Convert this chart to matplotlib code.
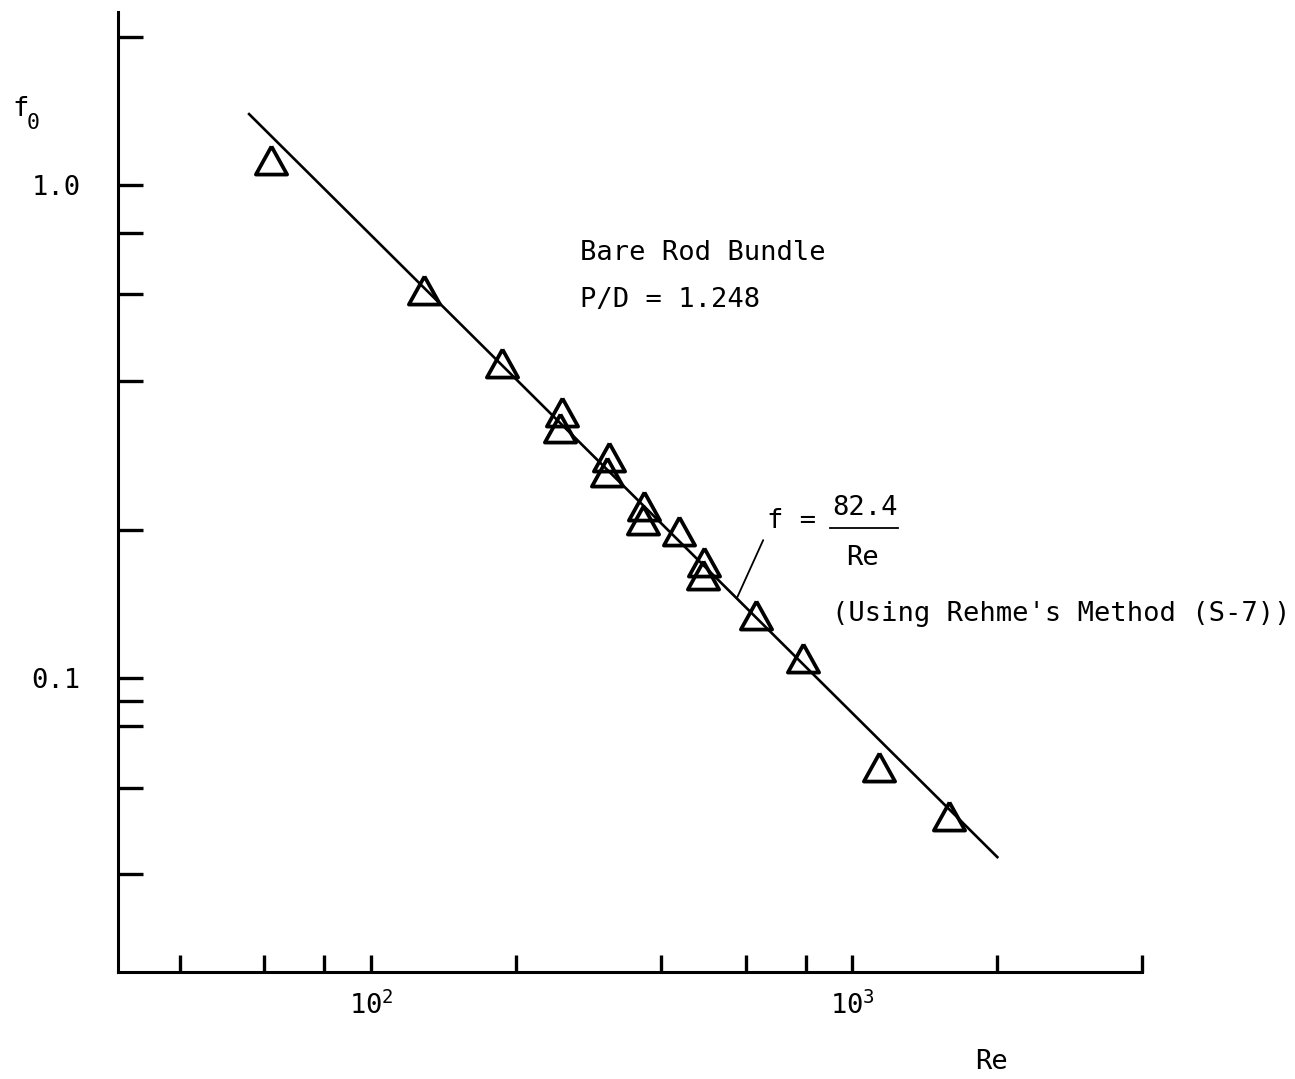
# friction_factor_plot.py
# Friction factor vs Reynolds number, bare rod bundle (log-log)

import matplotlib
matplotlib.use("Agg")
import matplotlib.pyplot as plt
from matplotlib.ticker import FixedLocator, NullFormatter, FixedFormatter

plt.rcParams['font.family'] = ['DejaVu Sans Mono', 'DejaVu Sans']

re_data = [62.1, 128.9, 187.2, 249.5, 247.1, 312.5, 309.5, 369.5, 367.7,
           436.8, 492.4, 490.0, 631.6, 791.0, 1138, 1591]
f_data = [1.124, 0.612, 0.435, 0.346, 0.321, 0.281, 0.262, 0.223, 0.209,
          0.199, 0.172, 0.162, 0.134, 0.110, 0.066, 0.0525]

# correlation line f = 82.4/Re, end points as drawn
re_fit = [55.8, 2002]
f_fit = [1.393, 0.04335]

x_major = [100, 1000]
x_major_labels = [r'$\mathregular{10^2}$', r'$\mathregular{10^3}$']
x_minor = [40, 60, 80, 200, 400, 600, 800, 2000, 4000]
y_ticks = [0.04, 0.06, 0.08, 0.09, 0.1, 0.2, 0.4, 0.6, 0.8, 1.0, 2.0]
y_labels = ['', '', '', '', '0.1', '', '', '', '', '1.0', '']

W, H = 1295, 1079
fig = plt.figure(figsize=(W / 100, H / 100), dpi=100)
ax = fig.add_axes([118 / W, 1 - 972 / H, 1024 / W, 960 / H])

ax.plot(re_fit, f_fit, color='black', lw=1.9, zorder=2)

tri = [(0, 0.9), (-1, -0.9), (1, -0.9), (0, 0.9)]
ax.plot(re_data, f_data, linestyle='none', marker=tri, ms=22.5,
        mfc='none', mec='black', mew=2.7, zorder=3)

ax.set_xscale('log')
ax.set_yscale('log')
ax.set_xlim(29.8, 4000)
ax.set_ylim(0.02535, 2.244)

for s in ['top', 'right']:
    ax.spines[s].set_visible(False)
for s in ['left', 'bottom']:
    ax.spines[s].set_linewidth(2.2)

ax.xaxis.set_major_locator(FixedLocator(x_major))
ax.xaxis.set_major_formatter(FixedFormatter(x_major_labels))
ax.xaxis.set_minor_locator(FixedLocator(x_minor))
ax.xaxis.set_minor_formatter(NullFormatter())
ax.yaxis.set_major_locator(FixedLocator(y_ticks))
ax.yaxis.set_major_formatter(FixedFormatter(y_labels))
ax.yaxis.set_minor_locator(FixedLocator([]))

ax.tick_params(axis='x', which='both', direction='in', length=12, width=2.4,
               pad=14, labelsize=19.5)
ax.tick_params(axis='y', which='both', direction='in', length=18, width=2.4,
               pad=27, labelsize=19.5)

# leader from equation to line
ax.annotate('', xy=(577, 0.146), xytext=(653, 0.1905),
            arrowprops=dict(arrowstyle='-', color='black', lw=1.3,
                            shrinkA=0, shrinkB=0))

def px_text(x, y, s, size=19.5):
    fig.text(x / W, 1 - y / H, s, fontsize=size, va='center', ha='left')

px_text(580, 253, 'Bare Rod Bundle')
px_text(580, 300, 'P/D = 1.248')
px_text(767, 521, 'f =')
px_text(832, 508, '82.4')
px_text(846, 558, 'Re')
px_text(832, 614, "(Using Rehme's Method (S-7))")
px_text(975, 1062, 'Re')
px_text(12, 109, 'f')
px_text(27, 123, '0', size=15.5)

fig.add_artist(plt.Line2D([830 / W, 898 / W], [1 - 528 / H, 1 - 528 / H],
                          color='black', lw=1.3))

fig.savefig('out.png', dpi=100)
